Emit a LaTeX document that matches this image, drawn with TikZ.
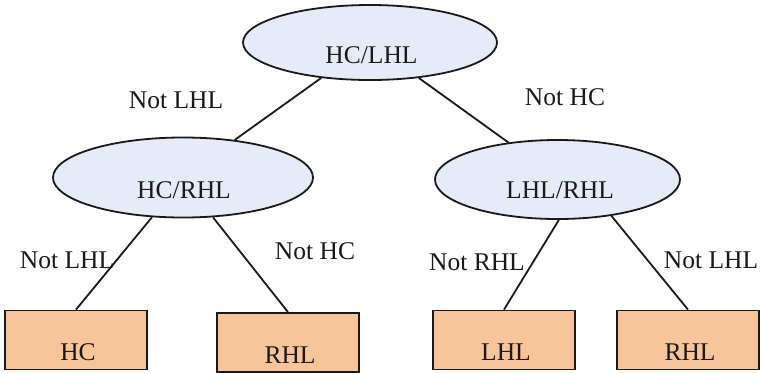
\documentclass[tikz,border=0pt]{standalone}
\usepackage{fontspec}
\setmainfont{Liberation Serif}
\usetikzlibrary{shapes.geometric}
\definecolor{ellfill}{RGB}{230,236,247}
\definecolor{boxfill}{RGB}{248,197,154}
\definecolor{inkc}{RGB}{25,25,25}
\begin{document}
\begin{tikzpicture}[x=1pt,y=-1pt,
  txt/.style={font=\fontsize{25.5}{30}\selectfont, text=inkc, inner sep=0pt, anchor=base},
  ell/.style={ellipse, draw=inkc, fill=ellfill, line width=1.8pt, inner sep=0pt},
  leaf/.style={rectangle, draw=inkc, fill=boxfill, line width=1.8pt, inner sep=0pt, minimum width=142pt, minimum height=59pt},
  conn/.style={draw=inkc, line width=1.8pt}]
\useasboundingbox (0,0) rectangle (760,373);
% decision nodes
\node[ell, minimum width=254pt, minimum height=75pt] (top) at (370,42.5) {};
\node[ell, minimum width=260pt, minimum height=80pt] (left) at (183,177.5) {};
\node[ell, minimum width=245pt, minimum height=79pt] (right) at (557.5,179.5) {};
% leaves
\node[leaf] (hc) at (76,340) {};
\node[leaf] (rhla) at (288,342.5) {};
\node[leaf] (lhl) at (504,340) {};
\node[leaf] (rhlb) at (688,340) {};
% texts in shapes
\node[txt] (ttop) at (371.5,63) {HC/LHL};
\node[txt] (tleft) at (184,198) {HC/RHL};
\node[txt] (tright) at (560,198) {LHL/RHL};
\node[txt] (thc) at (78,360) {HC};
\node[txt] (trhla) at (290,363) {RHL};
\node[txt] (tlhl) at (506,360) {LHL};
\node[txt] (trhlb) at (690,360) {RHL};
% connectors
\draw[conn] (top.216) -- (left.36);
\draw[conn] (top.324) -- (right.143);
\draw[conn] (left.232) -- (hc.north);
\draw[conn] (left.307) -- (rhla.north);
\draw[conn] (right.272) -- (lhl.north);
\draw[conn] (right.326) -- (rhlb.north);
% edge labels
\node[txt] (l1) at (176,108) {Not LHL};
\node[txt] (l2) at (565,105) {Not HC};
\node[txt] (l3) at (67,268) {Not LHL};
\node[txt] (l4) at (315,259) {Not HC};
\node[txt] (l5) at (477,270) {Not RHL};
\node[txt] (l6) at (711,268) {Not LHL};
\end{tikzpicture}
\end{document}
